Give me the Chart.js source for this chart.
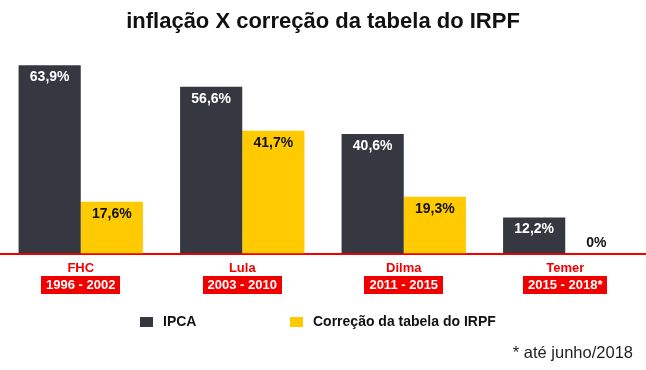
<!DOCTYPE html>
<html>
<head>
<meta charset="utf-8">
<script src="https://cdn.jsdelivr.net/npm/chart.js@4/dist/chart.umd.min.js"></script>
<style>
  html, body { margin: 0; padding: 0; background: #fff; }
  canvas { display: block; }
</style>
</head>
<body>
<canvas id="grafico" width="646" height="370"></canvas>
<script>
// dados
const governos = ['FHC', 'Lula', 'Dilma', 'Temer'];
const periodos = ['1996 - 2002', '2003 - 2010', '2011 - 2015', '2015 - 2018*'];
const ipca = [63.9, 56.6, 40.6, 12.2];
const correcao = [17.6, 41.7, 19.3, 0];
const nomesSeries = ['IPCA', 'Correção da tabela do IRPF'];
const nota = '* até junho/2018';

const ESCURO = '#353841';
const AMARELO = '#ffcb00';
const VERMELHO = '#f20000';
const FONTE = '"Liberation Sans", Arial, Helvetica, sans-serif';

Chart.defaults.font.family = FONTE;

function formata(v) {
  return String(v).replace('.', ',') + '%';
}

// rótulos de valor nas barras
const rotulosBarras = {
  id: 'rotulosBarras',
  afterDatasetsDraw(chart) {
    const ctx = chart.ctx;
    ctx.save();
    ctx.font = 'bold 14px ' + FONTE;
    ctx.textAlign = 'center';
    ctx.textBaseline = 'middle';
    chart.data.datasets.forEach((ds, i) => {
      const meta = chart.getDatasetMeta(i);
      meta.data.forEach((el, j) => {
        const v = ds.data[j];
        if (v === 0) {
          ctx.fillStyle = '#111';
          ctx.fillText(formata(v), el.x, el.y - 10);
        } else {
          ctx.fillStyle = i === 0 ? '#fff' : '#111';
          ctx.fillText(formata(v), el.x, el.y + 12);
        }
      });
    });
    ctx.restore();
  }
};

// caixas vermelhas dos períodos, legenda e nota
const extras = {
  id: 'extras',
  afterDraw(chart) {
    const ctx = chart.ctx;
    const x = chart.scales.x;
    ctx.save();
    ctx.font = 'bold 13px ' + FONTE;
    ctx.textAlign = 'center';
    ctx.textBaseline = 'middle';
    const yCaixa = x.top + 7 + 16.25 * 1.5;
    periodos.forEach((p, i) => {
      const cx = x.getPixelForTick(i);
      const w = ctx.measureText(p).width + 10;
      ctx.fillStyle = VERMELHO;
      ctx.fillRect(Math.round(cx - w / 2), Math.round(yCaixa - 9), Math.round(w), 18);
      ctx.fillStyle = '#fff';
      ctx.fillText(p, cx, yCaixa + 0.5);
    });

    // legenda
    const posLegenda = [140, 290];
    ctx.font = 'bold 14px ' + FONTE;
    ctx.textAlign = 'left';
    chart.data.datasets.forEach((ds, i) => {
      ctx.fillStyle = ds.backgroundColor;
      ctx.fillRect(posLegenda[i], 317, 13, 10);
      ctx.fillStyle = '#111';
      ctx.fillText(ds.label, posLegenda[i] + 23, 322.5);
    });

    // nota
    ctx.font = '16.5px ' + FONTE;
    ctx.textAlign = 'right';
    ctx.fillStyle = '#222';
    ctx.fillText(nota, 633, 353);
    ctx.restore();
  }
};

new Chart(document.getElementById('grafico'), {
  type: 'bar',
  data: {
    labels: governos,
    datasets: [
      { label: nomesSeries[0], data: ipca, backgroundColor: ESCURO },
      { label: nomesSeries[1], data: correcao, backgroundColor: AMARELO }
    ]
  },
  options: {
    responsive: false,
    animation: false,
    layout: { padding: { left: 0, right: 0, top: 0, bottom: 70 } },
    datasets: {
      bar: { categoryPercentage: 0.77, barPercentage: 1.0 }
    },
    scales: {
      x: {
        grid: { display: false, drawTicks: false },
        border: { color: VERMELHO, width: 2 },
        ticks: {
          color: VERMELHO,
          font: { size: 13, weight: 'bold', lineHeight: 1.25 },
          padding: 7,
          maxRotation: 0,
          callback: (v, i) => [governos[i], periodos[i]]
        }
      },
      y: {
        display: false,
        min: 0,
        max: 70
      }
    },
    plugins: {
      legend: { display: false },
      tooltip: { enabled: false },
      title: {
        display: true,
        text: 'inflação X correção da tabela do IRPF',
        color: '#111',
        font: { size: 22, weight: 'bold', lineHeight: 1.2 },
        padding: { top: 9, bottom: 12 }
      }
    }
  },
  plugins: [rotulosBarras, extras]
});
</script>
</body>
</html>
